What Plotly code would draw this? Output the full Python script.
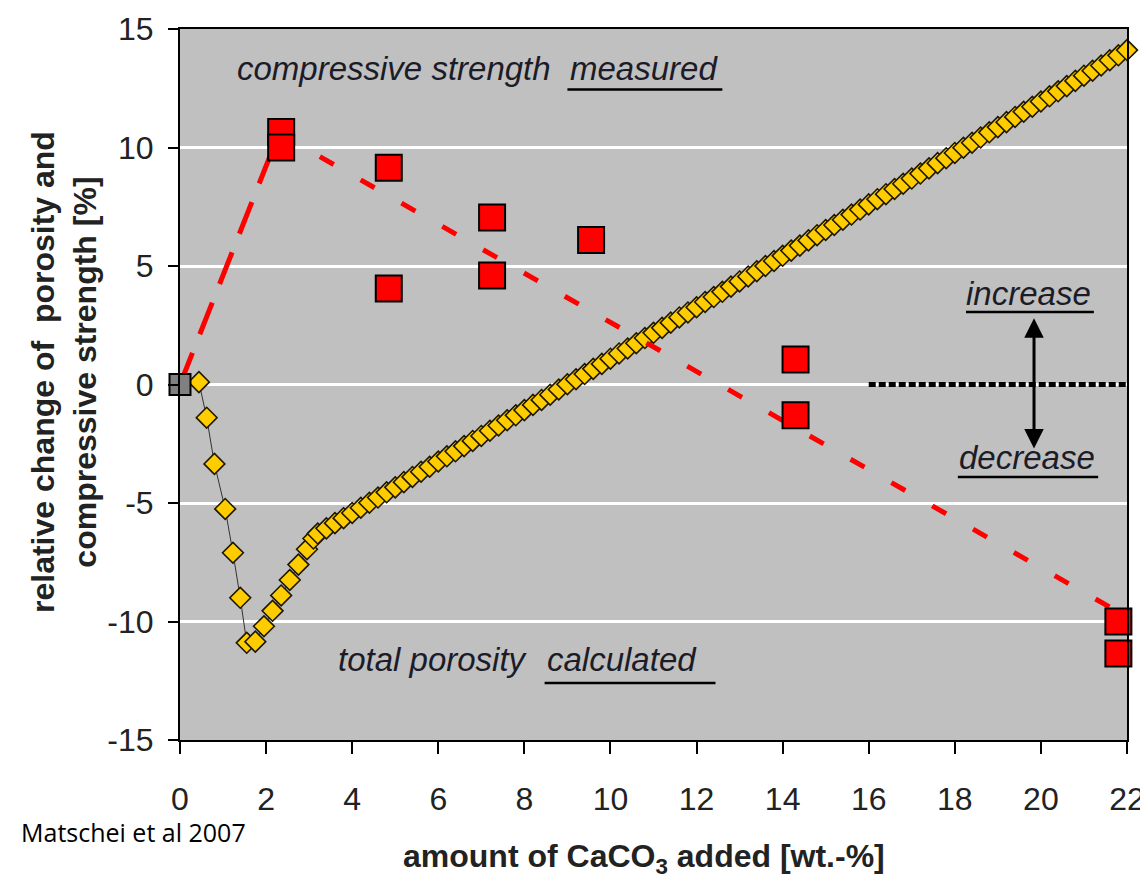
import plotly.graph_objects as go

# ---- data -------------------------------------------------------------
# measured compressive strength (relative change, %)
meas_x = [2.35, 2.35, 4.85, 4.85, 7.25, 7.25, 9.55, 14.3, 14.3, 21.8, 21.8]
meas_y = [10.65, 10.0, 9.15, 4.05, 7.05, 4.6, 6.1, 1.05, -1.3, -10.0, -11.35]

# reference mix without limestone
ref_x = [0]
ref_y = [0]

# trend of the strength data: steep rise, then slow decline
rise_x = [0, 2.3]
rise_y = [0, 10.6]
fall_x = [2.3, 21.8]
fall_y = [10.6, -9.6]

# calculated total porosity (relative change, %)
poro_x = [0.44, 0.62, 0.8, 1.05, 1.23, 1.4, 1.55,
          1.75, 1.95, 2.15, 2.35, 2.55, 2.75, 2.95, 3.1,
          3.2, 3.4, 3.6, 3.8, 4.0, 4.2, 4.4, 4.6, 4.8, 5.0,
          5.2, 5.4, 5.6, 5.8, 6.0, 6.2, 6.4, 6.6, 6.8, 7.0,
          7.2, 7.4, 7.6, 7.8, 8.0, 8.2, 8.4, 8.6, 8.8, 9.0,
          9.2, 9.4, 9.6, 9.8, 10.0, 10.2, 10.4, 10.6, 10.8, 11.0,
          11.2, 11.4, 11.6, 11.8, 12.0, 12.2, 12.4, 12.6, 12.8, 13.0,
          13.2, 13.4, 13.6, 13.8, 14.0, 14.2, 14.4, 14.6, 14.8, 15.0,
          15.2, 15.4, 15.6, 15.8, 16.0, 16.2, 16.4, 16.6, 16.8, 17.0,
          17.2, 17.4, 17.6, 17.8, 18.0, 18.2, 18.4, 18.6, 18.8, 19.0,
          19.2, 19.4, 19.6, 19.8, 20.0, 20.2, 20.4, 20.6, 20.8, 21.0,
          21.2, 21.4, 21.6, 21.8, 22.0]
poro_y = [0.1, -1.4, -3.35, -5.25, -7.1, -9.0, -10.9,
          -10.85, -10.2, -9.55, -8.9, -8.25, -7.6, -6.95, -6.5,
          -6.29, -6.07, -5.85, -5.64, -5.42, -5.20, -4.99, -4.77, -4.55, -4.34,
          -4.12, -3.90, -3.68, -3.47, -3.25, -3.03, -2.82, -2.60, -2.38, -2.17,
          -1.95, -1.73, -1.51, -1.30, -1.08, -0.86, -0.65, -0.43, -0.21, 0.01,
          0.22, 0.44, 0.66, 0.87, 1.09, 1.31, 1.52, 1.74, 1.96, 2.18,
          2.39, 2.61, 2.83, 3.04, 3.26, 3.48, 3.69, 3.91, 4.13, 4.35,
          4.56, 4.78, 5.00, 5.21, 5.43, 5.65, 5.86, 6.08, 6.30, 6.52,
          6.73, 6.95, 7.17, 7.38, 7.60, 7.82, 8.03, 8.25, 8.47, 8.69,
          8.90, 9.12, 9.34, 9.55, 9.77, 9.99, 10.20, 10.42, 10.64, 10.86,
          11.07, 11.29, 11.51, 11.72, 11.94, 12.16, 12.37, 12.59, 12.81, 13.03,
          13.24, 13.46, 13.68, 13.89, 14.11]

x_ticks = [0, 2, 4, 6, 8, 10, 12, 14, 16, 18, 20, 22]
y_ticks = [-15, -10, -5, 0, 5, 10, 15]
y_tick_text = ["-15", "-10", "-5", "0", "5", "10", "15"]

# ---- styling ----------------------------------------------------------
FONT = "Liberation Sans, Arial, sans-serif"
TXT = "#1c1c28"

fig = go.Figure()

fig.add_trace(go.Scatter(
    x=poro_x, y=poro_y, mode="lines+markers", cliponaxis=False,
    line=dict(color="#333333", width=1),
    marker=dict(symbol="diamond", size=16, color="#FFCC00",
                line=dict(color="#1e1800", width=1.6)),
    showlegend=False, hoverinfo="skip"))

fig.add_trace(go.Scatter(
    x=rise_x, y=rise_y, mode="lines", cliponaxis=False,
    line=dict(color="#FF0000", width=5, dash="34px,20px"),
    showlegend=False, hoverinfo="skip"))
fig.add_trace(go.Scatter(
    x=fall_x, y=fall_y, mode="lines", cliponaxis=False,
    line=dict(color="#FF0000", width=5, dash="16px,31px"),
    showlegend=False, hoverinfo="skip"))

fig.add_trace(go.Scatter(
    x=meas_x, y=meas_y, mode="markers", cliponaxis=False,
    marker=dict(symbol="square", size=26, color="#FF0000",
                line=dict(color="#000000", width=2)),
    showlegend=False, hoverinfo="skip"))

fig.add_trace(go.Scatter(
    x=ref_x, y=ref_y, mode="markers", cliponaxis=False,
    marker=dict(symbol="square", size=21, color="#808080",
                line=dict(color="#000000", width=2)),
    showlegend=False, hoverinfo="skip"))

# zero reference on the right, underlines and the increase/decrease arrow
shapes = [
    dict(type="line", xref="x", yref="y", x0=16, x1=22, y0=0, y1=0,
         line=dict(color="black", width=5, dash="7px,3px")),
    dict(type="line", xref="x", yref="y", x0=9.0, x1=12.6, y0=12.45, y1=12.45,
         line=dict(color="black", width=2.5)),
    dict(type="line", xref="x", yref="y", x0=8.47, x1=12.44, y0=-12.6, y1=-12.6,
         line=dict(color="black", width=2.5)),
    dict(type="line", xref="x", yref="y", x0=18.26, x1=21.23, y0=3.06, y1=3.06,
         line=dict(color="black", width=2.5)),
    dict(type="line", xref="x", yref="y", x0=18.07, x1=21.33, y0=-3.9, y1=-3.9,
         line=dict(color="black", width=2.5)),
]

ital = dict(family=FONT, size=33, color=TXT, style="italic")
annotations = [
    dict(x=8.67, y=13.35, xref="x", yref="y", text="compressive strength",
         showarrow=False, xanchor="right", yanchor="middle", font=ital),
    dict(x=9.02, y=13.35, xref="x", yref="y", text="measured",
         showarrow=False, xanchor="left", yanchor="middle", font=ital),
    dict(x=8.14, y=-11.62, xref="x", yref="y", text="total porosity",
         showarrow=False, xanchor="right", yanchor="middle", font=ital),
    dict(x=8.49, y=-11.62, xref="x", yref="y", text="calculated",
         showarrow=False, xanchor="left", yanchor="middle", font=ital),
    dict(x=19.72, y=3.86, xref="x", yref="y", text="increase",
         showarrow=False, xanchor="center", yanchor="middle", font=ital),
    dict(x=19.67, y=-3.1, xref="x", yref="y", text="decrease",
         showarrow=False, xanchor="center", yanchor="middle", font=ital),
    dict(x=19.84, y=2.8, ax=19.84, ay=-2.76, xref="x", yref="y",
         axref="x", ayref="y", text="", showarrow=True,
         arrowhead=2, arrowside="end+start", arrowsize=1.3,
         arrowwidth=3, arrowcolor="black"),
    dict(x=-0.1225, y=0.5176, xref="paper", yref="paper",
         text="<b>relative change of  porosity and<br>compressive strength [%]</b>",
         showarrow=False, textangle=-90, xanchor="center", yanchor="middle",
         font=dict(family=FONT, size=32, color="#222222")),
    dict(x=0.49, y=-0.1665, xref="paper", yref="paper",
         text="<b>amount of CaCO<sub>3</sub> added [wt.-%]</b>",
         showarrow=False, xanchor="center", yanchor="middle",
         font=dict(family=FONT, size=32, color="#222222")),
    dict(x=-0.1695, y=-0.1295, xref="paper", yref="paper",
         text="Matschei et al 2007",
         showarrow=False, xanchor="left", yanchor="middle",
         font=dict(family="Open Sans, sans-serif", size=25, color="#000000")),
]

fig.update_layout(
    width=1140, height=889,
    margin=dict(l=180, r=13, t=29, b=149, autoexpand=False),
    paper_bgcolor="white", plot_bgcolor="#C0C0C0",
    shapes=shapes, annotations=annotations,
    xaxis=dict(range=[0, 22], tickvals=x_ticks, ticks="outside", ticklen=12,
               tickwidth=2, tickcolor="black", showline=True, linecolor="black",
               linewidth=2, mirror=True, showgrid=False, zeroline=False,
               automargin=False,
               ticklabelstandoff=18, ticklabeloverflow="allow",
               tickfont=dict(family=FONT, size=32, color="#222222")),
    yaxis=dict(range=[-15, 15], tickvals=y_ticks, ticktext=y_tick_text,
               ticks="outside", ticklen=10, automargin=False,
               tickwidth=2, tickcolor="black", showline=True, linecolor="black",
               linewidth=2, mirror=True, showgrid=True, gridcolor="white",
               gridwidth=3, zeroline=False, ticklabelstandoff=8,
               tickfont=dict(family=FONT, size=32, color="#222222")),
)

fig.write_html("out.html")
